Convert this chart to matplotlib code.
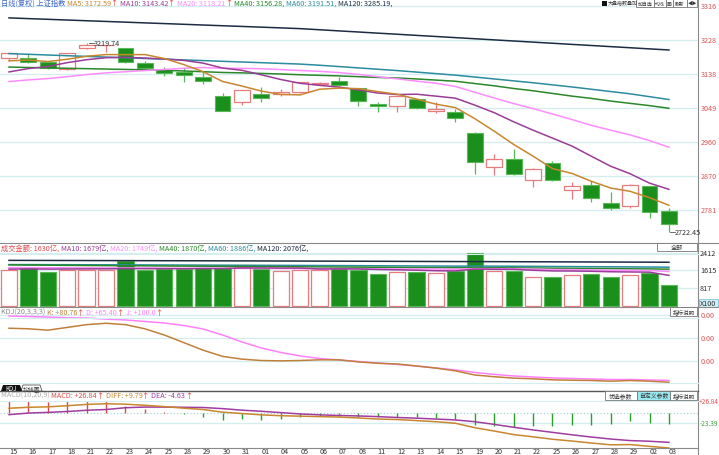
import matplotlib
matplotlib.use("Agg")
import matplotlib.pyplot as plt
from matplotlib.patches import Rectangle, Polygon

plt.rcParams['font.family'] = ['Noto Sans CJK SC', 'DejaVu Sans']

W, H = 719, 456

# ---- daily bars, 2018-05-15 .. 2018-07-03 ----
dates = ["15", "16", "17", "18", "21", "22", "23", "24", "25", "28", "29", "30", "31",
         "01", "04", "05", "06", "07", "08", "11", "12", "13", "14", "15", "19", "20",
         "21", "22", "25", "26", "27", "28", "29", "02", "03"]
opens = [3180, 3180, 3170, 3151, 3205, 3213, 3205, 3168, 3148, 3142, 3131, 3081, 3064,
         3085, 3085, 3090, 3111, 3120, 3101, 3058, 3055, 3073, 3040, 3038, 2984, 2894,
         2914, 2861, 2905, 2834, 2846, 2800, 2793, 2843, 2778]
highs = [3194, 3190, 3171, 3194, 3219.74, 3215, 3207, 3173, 3157, 3153, 3142, 3087, 3096,
         3103, 3099, 3118, 3118, 3129, 3102, 3064, 3081, 3074, 3064, 3046, 2987, 2927,
         2942, 2891, 2911, 2854, 2856, 2828, 2849, 2844, 2786]
lows = [3172, 3168, 3151, 3149, 3204, 3196, 3168, 3151, 3132, 3118, 3112, 3041, 3057,
        3064, 3080, 3088, 3108, 3106, 3055, 3039, 3038, 3046, 3035, 3012, 2876, 2874,
        2873, 2841, 2858, 2811, 2802, 2782, 2786, 2760, 2722.45]
closes = [3192, 3170, 3154, 3193, 3214, 3214, 3169, 3155, 3141, 3135, 3120, 3041, 3095,
          3075, 3091, 3116, 3115, 3110, 3067, 3055, 3080, 3050, 3045, 3022, 2908, 2916,
          2876, 2890, 2859, 2845, 2813, 2787, 2847, 2776, 2745]

ma5 = [3172.6, 3174.7, 3170.7, 3176.7, 3184.6, 3189.0, 3188.8, 3189.0, 3178.6, 3162.8,
       3144.0, 3118.4, 3106.4, 3093.2, 3084.4, 3083.2, 3098.0, 3101.0, 3099.4, 3091.8,
       3085.0, 3072.0, 3058.8, 3049.8, 3020.8, 2988.0, 2953.2, 2922.4, 2889.8, 2877.2,
       2856.6, 2838.8, 2830.2, 2813.6, 2793.6]
ma10 = [3143.4, 3152.3, 3157.6, 3167.8, 3175.5, 3180.8, 3181.8, 3179.8, 3177.6, 3173.7,
        3166.5, 3153.6, 3147.7, 3135.9, 3123.6, 3113.6, 3108.2, 3103.7, 3096.3, 3088.1,
        3084.1, 3085.0, 3079.9, 3074.6, 3056.3, 3036.5, 3012.6, 2990.6, 2969.8, 2949.0,
        2922.3, 2896.0, 2876.3, 2851.7, 2835.4]
ma20 = [3118.2, 3122.5, 3126.0, 3131.0, 3136.5, 3141.0, 3144.0, 3147.0, 3150.0, 3153.0,
        3155.0, 3153.0, 3152.7, 3151.9, 3149.6, 3147.2, 3145.0, 3141.8, 3137.0, 3130.9,
        3125.3, 3119.3, 3113.8, 3105.3, 3090.0, 3075.0, 3060.4, 3047.2, 3033.0, 3018.6,
        3003.2, 2990.5, 2978.1, 2963.2, 2945.9]
ma40 = [3156.3, 3155.0, 3154.0, 3153.0, 3152.0, 3151.0, 3150.0, 3149.0, 3147.5, 3146.0,
        3144.0, 3142.0, 3141.0, 3139.5, 3138.0, 3136.0, 3134.5, 3133.0, 3131.0, 3129.0,
        3127.5, 3125.0, 3122.0, 3119.0, 3113.0, 3107.0, 3100.0, 3094.0, 3087.0, 3080.0,
        3074.0, 3067.0, 3061.0, 3055.0, 3048.0]
ma60 = [3191.5, 3189.7, 3187.8, 3186.0, 3184.2, 3182.3, 3180.5, 3178.7, 3176.8, 3175.0,
        3173.2, 3171.3, 3169.5, 3167.7, 3165.8, 3164.0, 3161.0, 3157.5, 3154.0, 3150.5,
        3147.0, 3143.0, 3139.0, 3135.0, 3130.0, 3125.0, 3120.0, 3115.0, 3109.5, 3104.0,
        3098.0, 3092.0, 3086.0, 3078.5, 3071.0]
ma120 = [3285.2, 3283.3, 3281.5, 3279.6, 3277.7, 3275.9, 3274.0, 3272.1, 3270.3, 3268.4,
         3266.5, 3264.6, 3262.8, 3260.9, 3259.0, 3257.0, 3254.1, 3251.1, 3248.2, 3245.2,
         3242.3, 3239.3, 3236.4, 3233.4, 3230.5, 3227.5, 3224.6, 3221.6, 3218.7, 3215.7,
         3212.8, 3209.8, 3206.9, 3203.9, 3201.0]

# turnover, 100 million yuan
amount = [1630, 1717, 1535, 1657, 1657, 1657, 2067, 1657, 1687, 1687, 1717, 1733, 1763,
          1687, 1581, 1657, 1657, 1717, 1641, 1459, 1565, 1565, 1505, 1611, 2412, 1581,
          1611, 1307, 1337, 1413, 1459, 1337, 1413, 1505, 957]
amt_ma10 = [1679, 1685, 1680, 1682, 1688, 1690, 1700, 1698, 1697, 1695, 1704, 1705, 1728,
            1731, 1724, 1724, 1683, 1689, 1684, 1661, 1646, 1629, 1603, 1596, 1679, 1671,
            1667, 1626, 1595, 1591, 1580, 1557, 1548, 1538, 1392]
amt_ma20 = [1749, 1745, 1740, 1735, 1732, 1730, 1730, 1725, 1722, 1718, 1715, 1712, 1712,
            1710, 1706, 1702, 1700, 1698, 1695, 1690, 1688, 1685, 1680, 1672, 1700, 1698,
            1694, 1677, 1660, 1655, 1642, 1625, 1620, 1612, 1570]
amt_ma40 = [1870, 1862, 1855, 1848, 1842, 1836, 1832, 1826, 1820, 1815, 1810, 1805, 1800,
            1795, 1790, 1784, 1778, 1773, 1768, 1762, 1756, 1750, 1745, 1740, 1745, 1740,
            1735, 1728, 1720, 1713, 1706, 1700, 1694, 1688, 1675]
amt_ma60 = [1886, 1884, 1881, 1879, 1876, 1874, 1872, 1869, 1866, 1863, 1860, 1857, 1854,
            1851, 1848, 1845, 1841, 1838, 1834, 1830, 1826, 1822, 1818, 1814, 1816, 1812,
            1808, 1803, 1798, 1793, 1788, 1783, 1778, 1773, 1765]
amt_ma120 = [2076, 2074, 2072, 2070, 2068, 2066, 2064, 2062, 2060, 2058, 2056, 2054, 2052,
             2050, 2047, 2045, 2042, 2040, 2037, 2034, 2031, 2028, 2025, 2022, 2021, 2018,
             2015, 2012, 2009, 2006, 2003, 2000, 1997, 1994, 1990]

kdj_k = [80.8, 80, 78, 82, 86, 88, 86, 80, 71, 60, 49, 40, 36, 34, 33.5, 34, 35, 35, 32, 30,
         29, 26, 23, 19, 13, 10.5, 8.5, 7.5, 6, 5.5, 5, 4, 5, 4, 2.5]
kdj_d = [98.5, 97.8, 97, 96, 95.6, 94, 92.8, 90.6, 88.4, 84.8, 79.7, 71, 60.9, 52.2, 45.7,
         40.6, 37, 34.8, 32.6, 30.4, 28.3, 26.1, 23.2, 20.3, 16.7, 13.8, 11.6, 10.1, 8.7, 8,
         7.2, 6.5, 6.5, 5.8, 5.1]

macd_diff = [9.8, 12, 13, 15.5, 18.5, 20, 19, 16.5, 13.5, 10, 7, 1, -2, -5, -7, -8, -9, -10,
             -12, -14.5, -15.5, -18, -20.5, -24, -34, -41.5, -49.5, -54.5, -60, -64, -68.5,
             -72.5, -72, -76, -79.7]
macd_dea = [-4.6, -1, 0.5, 2.5, 5.3, 7, 11, 12.5, 12.5, 12, 11.5, 9, 5.5, 3, 0, -3, -5, -6.5,
            -7.5, -9, -11, -12.5, -14.5, -16.5, -20.5, -26.5, -33, -39, -44.5, -50, -55,
            -59.5, -63, -64.5, -67]
macd_bar = [26.84, 26, 25, 26, 26.5, 26, 16, 8, 2, -4, -9, -16, -15, -16, -14, -10, -8, -7,
            -9, -11, -9, -11, -12, -15, -27, -30, -33, -31, -31, -28, -27, -26, -18, -23, -25]

price_ticks = [3316.4, 3227.2, 3138.0, 3048.8, 2959.6, 2870.4, 2781.2]
price_labels = ["3316", "3228", "3138", "3049", "2960", "2870", "2781"]
amt_ticks = [2412, 1615, 817]
kdj_ticks = [100, 66.7, 33.3]

UP = '#e87c7c'
DN_FILL = '#1b8f1b'
DN_EDGE = '#58b858'
GRID = '#d4eef0'
C5, C10, C20, C40, C60, C120 = '#c8862e', '#9a3c98', '#ff8cff', '#2a882a', '#2a8c9e', '#1c2c44'

fig = plt.figure(figsize=(W / 100, H / 100), dpi=100)
fig.patch.set_facecolor('white')

X0, STEP = 9.0, 19.41
xlo, xhi = (0 - X0) / STEP, (698 - X0) / STEP


def lin(ya, va, yb, vb):
    return lambda y: va + (y - ya) * (vb - va) / (yb - ya)


def panel(y0, y1, vmap):
    ax = fig.add_axes([0, 1 - y1 / H, 698 / W, (y1 - y0) / H])
    ax.set_xlim(xlo, xhi)
    ax.set_ylim(vmap(y1), vmap(y0))
    ax.axis('off')
    return ax


n = len(closes)
xs = list(range(n))

# ---- price panel ----
axp = panel(0, 244, lin(7, 3316.4, 211, 2781.2))
for v in price_ticks:
    axp.axhline(v, color=GRID, lw=0.9, zorder=0)
for i in xs:
    o, c, h, l = opens[i], closes[i], highs[i], lows[i]
    if c >= o:
        axp.vlines(i, l, o, color=UP, lw=0.9, zorder=3)
        axp.vlines(i, c, h, color=UP, lw=0.9, zorder=3)
        axp.add_patch(Rectangle((i - 0.41, o), 0.82, max(c - o, 0.8), facecolor='white',
                                edgecolor=UP, lw=0.9, zorder=3))
    else:
        axp.vlines(i, l, h, color=DN_EDGE, lw=0.9, zorder=2)
        axp.add_patch(Rectangle((i - 0.41, c), 0.82, max(o - c, 0.8), facecolor=DN_FILL,
                                edgecolor=DN_EDGE, lw=0.8, zorder=3))
for ser, col in [(ma120, C120), (ma60, C60), (ma40, C40), (ma20, C20), (ma10, C10), (ma5, C5)]:
    axp.plot(xs, ser, color=col, lw=1.1, zorder=4)

# ---- turnover panel ----
axv = panel(244, 308, lin(254, 2412, 289, 817))
for v in amt_ticks:
    axv.axhline(v, color=GRID, lw=0.9, zorder=0)
for i in xs:
    if closes[i] >= opens[i]:
        axv.add_patch(Rectangle((i - 0.42, 0), 0.84, amount[i], facecolor='white',
                                edgecolor=UP, lw=0.9, zorder=2))
    else:
        axv.add_patch(Rectangle((i - 0.42, 0), 0.84, amount[i], facecolor=DN_FILL,
                                edgecolor=DN_EDGE, lw=0.8, zorder=2))
for ser, col in [(amt_ma120, C120), (amt_ma60, C60), (amt_ma40, C40), (amt_ma20, C20), (amt_ma10, C10)]:
    axv.plot(xs, ser, color=col, lw=1.1, zorder=4)

# ---- KDJ panel ----
axk = panel(308, 386, lin(316, 100, 362, 33.3))
for v in kdj_ticks:
    axk.axhline(v, color=GRID, lw=0.9, zorder=0)
axk.plot(xs, kdj_d, color='#ff80ff', lw=1.1)
axk.plot(xs, kdj_k, color='#c0803a', lw=1.1)

# ---- MACD panel (value range 26.84 .. -79.7) ----
axm = panel(401.7, 449, lin(401.7, 26.84, 449, -79.7))
axm.axhline(-23.39, color=GRID, lw=0.9, zorder=0)
axm.axhline(0, color='#9ad0d0', lw=0.8, ls=(0, (1, 2)), zorder=0)
for i in xs:
    axm.vlines(i, 0, macd_bar[i], color='#e04848' if macd_bar[i] >= 0 else '#2aa02a', lw=1.0)
axm.plot(xs, macd_dea, color='#a03ca0', lw=1.1)
axm.plot(xs, macd_diff, color='#c8862e', lw=1.1)

# ---- overlay in pixel coordinates ----
ov = fig.add_axes([0, 0, 1, 1])
ov.set_xlim(0, W)
ov.set_ylim(H, 0)
ov.axis('off')
ov.patch.set_alpha(0)

GRAYL = '#8a8a8a'
ov.plot([698, 698], [0, 456], color=GRAYL, lw=0.8)
for y in [244, 308]:
    ov.plot([0, 719], [y, y], color=GRAYL, lw=0.8)
ov.plot([0, 698], [392, 392], color='#555555', lw=1.0)
ov.plot([0, 698], [449, 449], color=GRAYL, lw=0.8)
for y in [255, 319, 384, 401.7]:
    ov.plot([0, 698], [y, y], color=GRID, lw=0.8)

fs = 5.2
r = fig.canvas.get_renderer()


def seq(x, y, pieces, size=fs):
    for s, c in pieces:
        t = ov.text(x, y, s, color=c, fontsize=size, va='center', ha='left')
        x += t.get_window_extent(renderer=r).width


seq(1, 3.5, [("日线(复权) 上证指数 ", '#3a64c8'), ("MA5: 3172.59", C5), ("↑ ", '#e03030'),
             ("MA10: 3143.42", C10), ("↑ ", '#e03030'), ("MA20: 3118.21", C20),
             ("↑ ", '#e03030'), ("MA40: 3156.28, ", C40), ("MA60: 3191.51, ", C60),
             ("MA120: 3285.19, ", C120)])
seq(1, 248.5, [("成交金额: 1630亿, ", '#e04848'), ("MA10: 1679亿, ", C10), ("MA20: 1749亿, ", C20),
               ("MA40: 1870亿, ", C40), ("MA60: 1886亿, ", C60), ("MA120: 2076亿, ", C120)])
seq(1, 313, [("KDJ(20,3,3,3) ", '#888888'), ("K: +80.76", '#c0803a'), ("↑ ", '#e03030'),
             ("D: +65.40", '#ff80ff'), ("↑ ", '#e03030'), ("J: +100.0", '#ff80ff'), ("↑", '#e03030')])
seq(1, 396, [("MACD(10,20,9) ", '#aaaaaa'), ("MACD: +26.84", '#e04848'), ("↑ ", '#e03030'),
             ("DIFF: +9.79", '#c8862e'), ("↑ ", '#e03030'), ("DEA: -4.63", '#a03ca0'), ("↑", '#e03030')])

# right axis labels
for v, s in zip(price_ticks, price_labels):
    y = 7 + (3316.4 - v) / 2.6235
    ov.text(701, y, s, color='#e05050', fontsize=fs, va='center', ha='left')
for v in amt_ticks:
    ov.text(700, 254 + (2412 - v) / 45.57, str(v), color='#303030', fontsize=fs, va='center', ha='left')
ov.add_patch(Rectangle((699, 300), 19, 7.5, facecolor='#cfeff5', edgecolor='#7fc8d8', lw=0.6))
ov.text(700, 304, "X100", color='#303030', fontsize=fs, va='center', ha='left')
for y in [316, 339, 362]:
    ov.text(701, y, "0.00", color='#e05050', fontsize=fs, va='center', ha='left')
ov.text(699, 402.5, "+26.84", color='#e05050', fontsize=4.7, va='center', ha='left')
ov.text(699.5, 424, "-23.39", color='#3aa03a', fontsize=4.7, va='center', ha='left')

# extreme markers
ov.plot([89, 94], [44, 44], color='#555555', lw=0.6)
ov.text(94, 44, "3219.74", color='#333333', fontsize=fs, va='center', ha='left')
ov.plot([670, 675], [233, 233], color='#555555', lw=0.6)
ov.text(675, 233, "2722.45", color='#333333', fontsize=fs, va='center', ha='left')


def button(x0, y0, x1, y1, s, fc='white', ec='#777777', size=4.4):
    ov.add_patch(Rectangle((x0, y0), x1 - x0, y1 - y0, facecolor=fc, edgecolor=ec, lw=0.6, zorder=5))
    ov.text((x0 + x1) / 2, (y0 + y1) / 2, s, color='#333333', fontsize=size, va='center',
            ha='center', zorder=6)


# toolbar, top right
ov.add_patch(Rectangle((602, 1.5), 5, 5, facecolor='#111111', zorder=5))
ov.text(607.5, 4, "大盘指数叠加", color='#333333', fontsize=3.6, va='center', ha='left', zorder=6)
button(636, 0, 654, 8, "加自选", size=3.5)
button(654, 0, 666, 8, "均线", size=3.5)
button(666, 0, 673, 8, "画", size=3.5)
button(673, 0, 687, 8, "刷新", size=3.5)
button(687, 0, 697, 8, "◀▶", size=3.4)
button(657, 244, 697, 252, "全部")
button(670, 308, 697, 317, "指标说明", size=4.0)
button(605, 392, 637, 401, "优选参数", size=4.2)
button(637, 392, 670, 401, "自定义参数", fc='#9be8f0', size=4.2)
button(670, 392, 697, 401, "指标说明", size=4.0)

# tabs
ov.add_patch(Polygon([(1, 392), (3, 386), (20, 386), (22, 392)], closed=True,
                     facecolor='#111111', zorder=5))
ov.text(11.5, 389, "KDJ", color='white', fontsize=4.4, va='center', ha='center', zorder=6)
ov.add_patch(Polygon([(21, 392), (23, 386), (40, 386), (42, 392)], closed=True,
                     facecolor='white', edgecolor='#555555', lw=0.6, zorder=4))
ov.text(31.5, 389, "均线图", color='#333333', fontsize=4.2, va='center', ha='center', zorder=6)

# date axis
for i, d in enumerate(dates):
    x = X0 + STEP * i
    ov.text(max(x, 1), 452.5, d, color='#333333', fontsize=fs, va='center', ha='left')

fig.savefig("out.png", dpi=100, facecolor='white')
